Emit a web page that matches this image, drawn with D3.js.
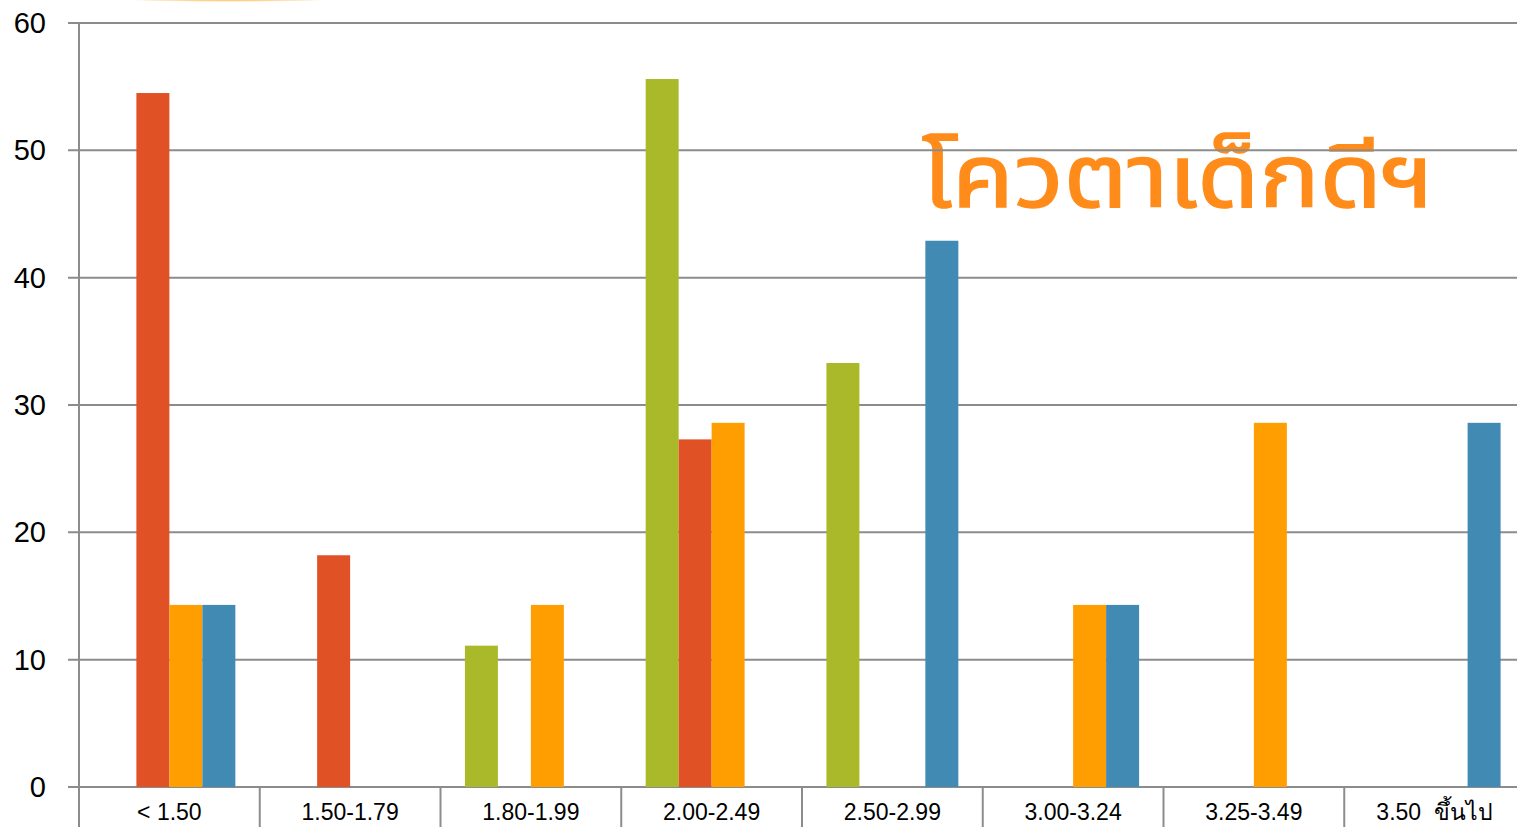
<!DOCTYPE html>
<html>
<head>
<meta charset="utf-8">
<script src="https://cdn.jsdelivr.net/npm/d3@7"></script>
<style>
  body { margin: 0; background: #fff; overflow: hidden; }
  svg { display: block; }
</style>
</head>
<body>
<svg id="chart" width="1517" height="827"></svg>
<script>
const categories = ['< 1.50', '1.50-1.79', '1.80-1.99', '2.00-2.49', '2.50-2.99', '3.00-3.24', '3.25-3.49', '3.50  ขึ้นไป'];
const seriesNames = ['green', 'red', 'orange', 'blue'];
const greenValues = [0, 0, 11.1, 55.6, 33.3, 0, 0, 0];
const redValues = [54.5, 18.2, 0, 27.3, 0, 0, 0, 0];
const orangeValues = [14.3, 0, 14.3, 28.6, 0, 14.3, 28.6, 0];
const blueValues = [14.3, 0, 0, 0, 42.9, 14.3, 0, 28.6];
const yTicks = [0, 10, 20, 30, 40, 50, 60];
const colors = ['#A9B92A', '#E05126', '#FF9E00', '#418AB3'];

const svg = d3.select('#chart');
const x0 = 79, x1 = 1525, yTop = 23, yBottom = 787;

// orange glow at the very top (cut off)
const defs = svg.append('defs');
const rg = defs.append('radialGradient').attr('id', 'glow');
rg.append('stop').attr('offset', '40%').attr('stop-color', '#FF9E00').attr('stop-opacity', 1);
rg.append('stop').attr('offset', '100%').attr('stop-color', '#FF9E00').attr('stop-opacity', 0);
svg.append('ellipse')
  .attr('cx', 228).attr('cy', -3).attr('rx', 135).attr('ry', 5)
  .attr('fill', 'url(#glow)');

const x = d3.scaleBand().domain(categories).range([x0, x1]);
const xs = d3.scaleBand().domain(seriesNames).range([0, x.bandwidth()]).paddingOuter(0.74);
const y = d3.scaleLinear().domain([0, 60]).range([yBottom, yTop]);

// title text (behind gridlines)
svg.append('text')
  .attr('x', 922).attr('y', 207)
  .attr('font-family', '"Noto Sans Thai", "Noto Sans", "DejaVu Sans", sans-serif')
  .attr('font-weight', 'normal')
  .attr('font-size', 88)
  .attr('textLength', 512)
  .attr('lengthAdjust', 'spacingAndGlyphs')
  .attr('fill', '#FF8C1A')
  .attr('stroke', '#FF8C1A')
  .attr('stroke-width', 1.5)
  .text('โควตาเด็กดีฯ');

// gridlines
svg.append('g')
  .selectAll('line')
  .data(yTicks)
  .join('line')
  .attr('x1', 68).attr('x2', 1517)
  .attr('y1', d => y(d)).attr('y2', d => y(d))
  .attr('stroke', '#8c8c8c').attr('stroke-width', 2);

// y axis line
svg.append('line')
  .attr('x1', x0).attr('x2', x0)
  .attr('y1', yTop).attr('y2', 827)
  .attr('stroke', '#8c8c8c').attr('stroke-width', 2);

// y labels
svg.append('g')
  .selectAll('text')
  .data(yTicks)
  .join('text')
  .attr('x', 46).attr('y', d => y(d) + 10)
  .attr('text-anchor', 'end')
  .attr('font-family', '"Liberation Sans", Arial, sans-serif')
  .attr('font-size', 29)
  .attr('fill', '#000')
  .text(d => d);

// category separators below axis
svg.append('g')
  .selectAll('line')
  .data(categories.slice(1).concat(['__end']))
  .join('line')
  .attr('x1', (d, i) => x0 + x.bandwidth() * (i + 1))
  .attr('x2', (d, i) => x0 + x.bandwidth() * (i + 1))
  .attr('y1', yBottom).attr('y2', 827)
  .attr('stroke', '#8c8c8c').attr('stroke-width', 2);

// bars
const table = categories.map((c, i) => ({
  cat: c,
  vals: [greenValues[i], redValues[i], orangeValues[i], blueValues[i]]
}));

const groups = svg.append('g')
  .selectAll('g')
  .data(table)
  .join('g')
  .attr('transform', d => `translate(${x(d.cat)},0)`);

groups.selectAll('rect')
  .data(d => d.vals.map((v, k) => ({ s: seriesNames[k], v, k })).filter(e => e.v > 0))
  .join('rect')
  .attr('x', d => xs(d.s))
  .attr('width', xs.bandwidth())
  .attr('y', d => y(d.v))
  .attr('height', d => yBottom - y(d.v))
  .attr('fill', d => colors[d.k]);

// x labels
svg.append('g')
  .selectAll('text')
  .data(categories)
  .join('text')
  .attr('x', d => x(d) + x.bandwidth() / 2)
  .attr('y', 820)
  .attr('text-anchor', 'middle')
  .attr('font-family', '"Liberation Sans", Arial, sans-serif')
  .attr('font-size', 23)
  .attr('fill', '#000')
  .style('white-space', 'pre')
  .text(d => d);
</script>
</body>
</html>
